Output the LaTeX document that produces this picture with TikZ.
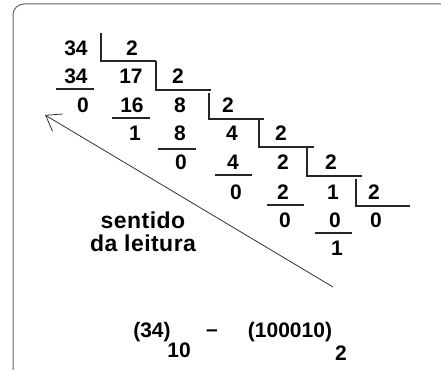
\documentclass[tikz,border=0pt]{standalone}
\usepackage{fontspec}
\setmainfont{Liberation Sans}
\usetikzlibrary{arrows.meta}

\begin{document}
\begin{tikzpicture}[x=1pt, y=-1pt, font=\bfseries\fontsize{21}{23}\selectfont,
  num/.style={inner sep=0pt},
  rule/.style={line width=1.1pt, black!85},
  word/.style={inner sep=0pt, font=\bfseries\fontsize{23}{25}\selectfont\addfontfeature{LetterSpace=2}}]
  \useasboundingbox (0,0) rectangle (441,369);
  % frame
  \draw[black!60, line width=1pt, rounded corners=11pt] (13,4) rectangle (480,400);
  % numbers of each division step
  \foreach \nm/\px/\py/\txt in {n1/76/48/34, v1/132/48/2, p1/76/76/34, r1/83/105/0,
      n2/131/76/17, v2/178/76/2, p2/132/105/16, r2/135/133/1,
      n3/180/105/8, v3/228/105/2, p3/180/133/8, r3/181/162/0,
      n4/232/133/4, v4/281/133/2, p4/233/162/4, r4/236/192/0,
      n5/283/162/2, v5/331/162/2, p5/283/192/2, r5/285/220/0,
      n6/333/192/1, v6/374/192/2, p6/335/220/0, r6/337/248/1, q6/376/220/0}
    \node[num] (\nm) at (\px,\py) {\txt};
  % division brackets
  \foreach \bx/\ty/\by/\ex in {101/33/61/156, 156/61/90/211, 209/93/119/264,
      259/120/147/314, 307/147/176/362, 356/179/206/410}
    \draw[rule] (\bx,\ty) -- (\bx,\by) -- (\ex,\by);
  % subtraction lines
  \foreach \lx/\ly/\rx in {56/89/94, 112/118/150, 158/149/196, 215/175/252, 267/205/304, 315/233/352}
    \draw[rule] (\lx,\ly) -- (\rx,\ly);
  % reading direction
  \coordinate (tail) at (333,287);
  \coordinate (tip) at (45,115);
  \draw[black!80, line width=0.8pt, -{Straight Barb[length=14pt, width=20pt]}] (tail) -- (tip);
  \node[word] (sentido) at (143,220) {sentido};
  \node[word] (leitura) at (143,243) {da leitura};
  % result
  \node[num] (dec) at (152,332) {(34)};
  \node[num] (b10) at (179,350) {10};
  \node[num] (dash) at (212,333) {--};
  \node[num] (bin) at (290,332) {(100010)};
  \node[num] (b2) at (341,353) {2};
\end{tikzpicture}
\end{document}
